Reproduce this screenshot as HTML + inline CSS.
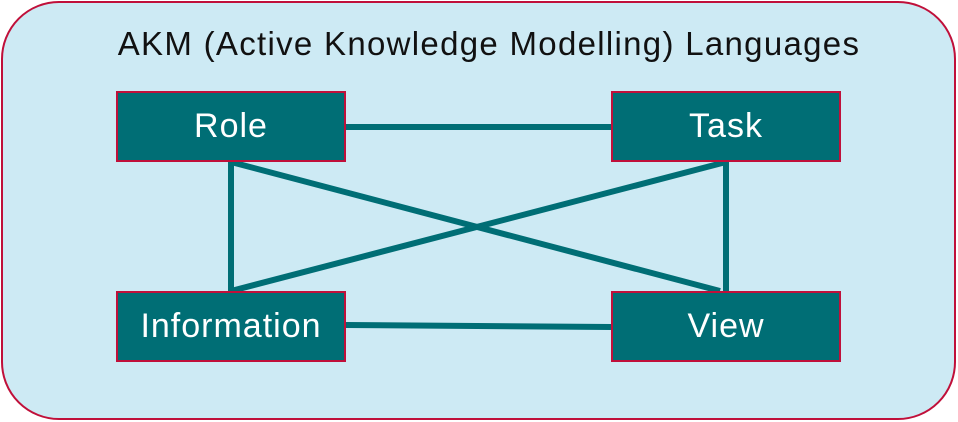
<!DOCTYPE html>
<html><head><style>
body{margin:0;width:958px;height:422px;background:#fff;overflow:hidden;font-family:"Liberation Sans",sans-serif}
.bg{position:absolute;left:1px;top:1px;width:955px;height:419px;border:2px solid #c0103a;border-radius:58px;background:#cdeaf4;box-sizing:border-box}
.t{position:absolute;left:0;width:978px;top:25px;text-align:center;font-size:33px;letter-spacing:1.3px;color:#111}
.b{position:absolute;width:230px;height:71px;background:#006e75;border:2px solid #c0103a;box-sizing:border-box;color:#fff;font-size:34px;letter-spacing:1px;display:flex;align-items:center;justify-content:center}
svg{position:absolute;left:0;top:0}
</style></head><body>
<div class="bg"></div>
<div class="t">AKM (Active Knowledge Modelling) Languages</div>
<svg width="958" height="422"><g stroke="#006e75" stroke-width="6" fill="none">
<line x1="346" y1="127" x2="611" y2="127"/>
<line x1="231" y1="162" x2="231" y2="291"/>
<line x1="726" y1="162" x2="726" y2="291"/>
<line x1="231" y1="162" x2="720" y2="291"/>
<line x1="726" y1="162" x2="231" y2="291"/>
<line x1="346" y1="325" x2="611" y2="327"/>
</g></svg>
<div class="b" style="left:116px;top:91px">Role</div>
<div class="b" style="left:611px;top:91px">Task</div>
<div class="b" style="left:116px;top:291px">Information</div>
<div class="b" style="left:611px;top:291px">View</div>
</body></html>
